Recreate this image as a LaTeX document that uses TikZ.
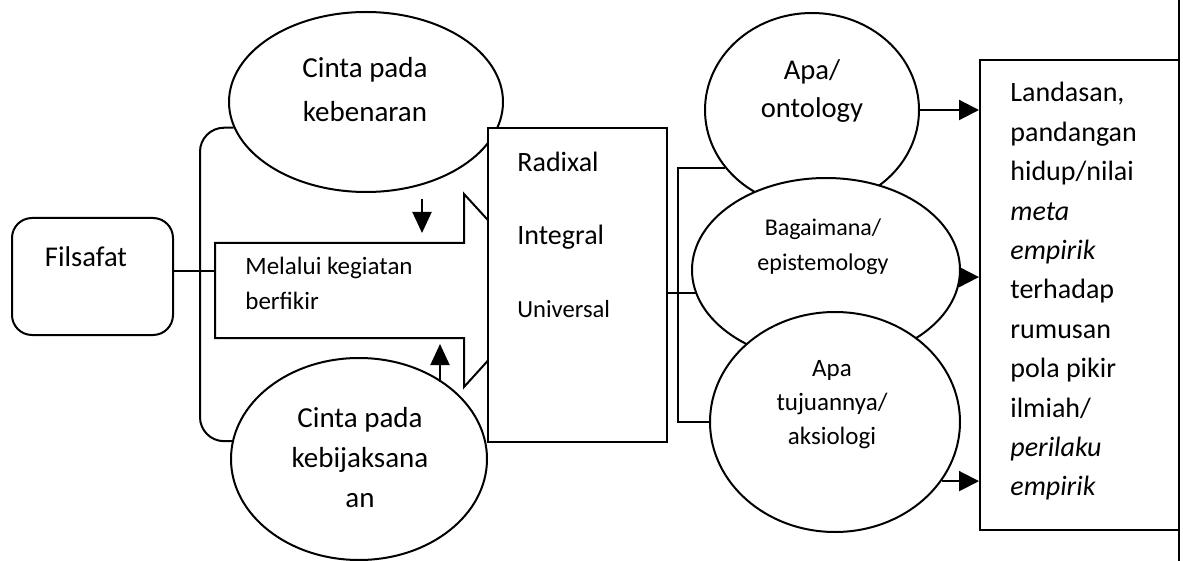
\documentclass[tikz,border=0pt]{standalone}
\usepackage{fontspec}
\setmainfont{Carlito}
\usetikzlibrary{shapes.geometric,arrows.meta}

\tikzset{
  oval/.style={draw,ellipse,line width=1pt,fill=white,inner sep=0pt},
  kotak/.style={draw,line width=1pt,fill=white,inner sep=0pt},
  teks/.style={align=center,inner sep=0pt},
  garis/.style={line width=1pt},
  panah/.style={line width=1pt,-{Triangle[length=10pt,width=10pt]}},
  panahkecil/.style={line width=1pt,-{Triangle[length=10.5pt,width=9.5pt]}}
}

\begin{document}
\begin{tikzpicture}[x=0.5pt,y=-0.5pt]
\useasboundingbox (0,0) rectangle (1183,561);

% bagian kiri
\coordinate (kirisumbu) at (200,271);
\coordinate (ekor) at (215,271);
\node (filsafat) [kotak,rounded corners=10pt,minimum width=80.5pt,minimum height=58.5pt] at (92.5,276.5) {};
\node (filsafatteks) [teks,font=\fontsize{14.3}{17}\selectfont] at (86,257) {Filsafat};
\draw[garis] (filsafat.east |- ekor) -- (ekor);
\draw[garis,fill=white] (215,243) -- (464,243) -- (464,194) -- (552,290)
  -- (464,387) -- (464,338) -- (215,338) -- cycle;
\node (melaluiteks) [align=left,inner sep=0pt,anchor=west,font=\fontsize{12.5}{17.5}\selectfont]
  at (245,283) {Melalui kegiatan\\berfikir};

\node (kebenaran) [oval,minimum width=137pt,minimum height=90pt] at (366,102) {};
\node (kebijaksanaan) [oval,minimum width=128pt,minimum height=101pt] at (359,459) {};
\draw[garis,rounded corners=12pt] (kebenaran.191) -| (kirisumbu) |- (kebijaksanaan.172);
\node (kebenaranteks) [teks,font=\fontsize{14.5}{22}\selectfont] at (365,90) {Cinta pada\\kebenaran};
\node (kebijaksanaanteks) [teks,font=\fontsize{14.5}{20}\selectfont] at (360,458) {Cinta pada\\kebijaksana\\an};
\draw[panahkecil] (422,199) -- (422,233);
\draw[panahkecil] (440,382) -- (440,344);

% kotak tengah
\node (sifat) [kotak,minimum width=89.5pt,minimum height=157pt] at (577.5,285) {};
\node (radixal) [inner sep=0pt,anchor=west,font=\fontsize{14}{17}\selectfont] at (517,162) {Radixal};
\node (integral) [inner sep=0pt,anchor=west,font=\fontsize{14}{17}\selectfont] at (517,237) {Integral};
\node (universal) [inner sep=0pt,anchor=west,font=\fontsize{12.3}{15}\selectfont] at (517,309) {Universal};

% bagian kanan
\coordinate (kanansumbu) at (678,293);
\node (apa) [oval,minimum width=107pt,minimum height=97pt] at (812,110) {};
\draw[garis] (apa.214) -| (kanansumbu) |- (835,422);
\draw[garis] (sifat.east |- kanansumbu) -- (700,293);
\node (bagaimana) [oval,minimum width=134pt,minimum height=92pt] at (826,270) {};
\node (aksiologi) [oval,minimum width=125pt,minimum height=110pt] at (835,422) {};
\node (apateks) [teks,font=\fontsize{14.3}{19}\selectfont] at (812,91) {Apa/\\ontology};
\node (bagaimanateks) [teks,font=\fontsize{12}{17.5}\selectfont] at (823,247) {Bagaimana/\\epistemology};
\node (aksiologiteks) [teks,font=\fontsize{12.5}{17}\selectfont] at (832,405) {Apa\\tujuannya/\\aksiologi};

\node (landasan) [kotak,minimum width=99.5pt,minimum height=235pt] at (1079.5,295) {};
\node (landasanteks) [align=left,inner sep=0pt,anchor=north west,font=\fontsize{14}{19.7}\selectfont]
  at (1010,82) {Landasan,\\pandangan\\hidup/nilai\\\textit{meta}\\\textit{empirik}\\terhadap\\rumusan\\pola pikir\\ilmiah/\\\textit{perilaku}\\\textit{empirik}};
\draw[garis] (1179,0) -- (1179,561);

\draw[panah] (apa.east) -- (apa.east -| landasan.west);
\draw[panah] (bagaimana.-3) -- (bagaimana.-3 -| landasan.west);
\draw[panah] (aksiologi.-29) -- (aksiologi.-29 -| landasan.west);
\end{tikzpicture}
\end{document}
